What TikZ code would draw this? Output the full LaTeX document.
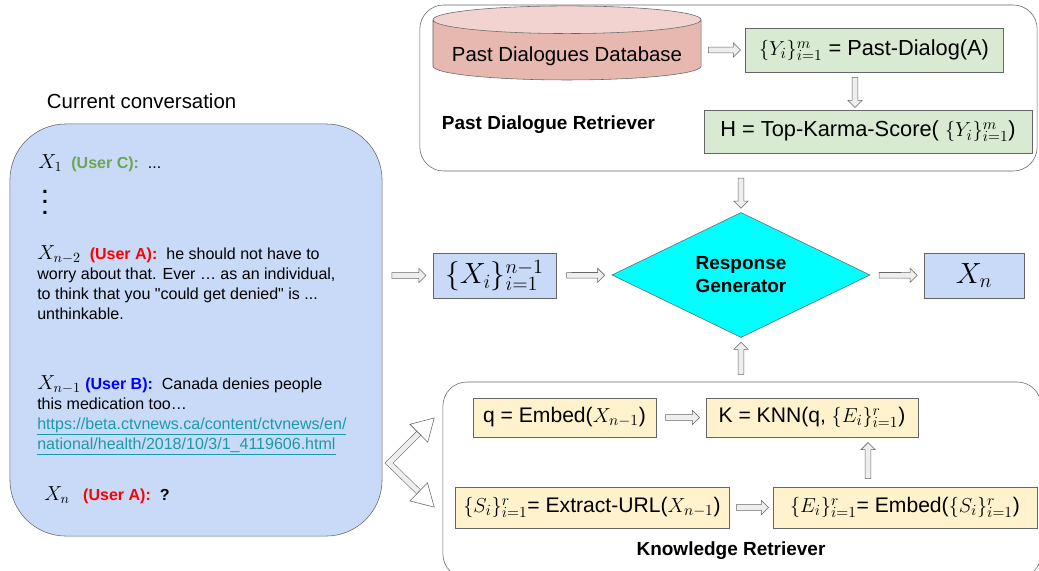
\documentclass[tikz,border=0pt]{standalone}
\usepackage[no-math]{fontspec}
\setmainfont[Ligatures=TeXOff]{Liberation Sans}
\usetikzlibrary{shapes.geometric,shapes.arrows,arrows.meta,calc}

\definecolor{convblue}{HTML}{C9DAF8}
\definecolor{dbbody}{HTML}{E6B8AF}
\definecolor{dbtop}{HTML}{F2D3CF}
\definecolor{pastgreen}{HTML}{D9EAD3}
\definecolor{knowyellow}{HTML}{FFF2CC}
\definecolor{gencyan}{HTML}{00FFFF}
\definecolor{usera}{HTML}{FF0000}
\definecolor{userb}{HTML}{0000FF}
\definecolor{userc}{HTML}{6AA84F}
\definecolor{urlteal}{HTML}{1A9AA8}
\definecolor{edgegray}{HTML}{666666}
\definecolor{arrowfill}{HTML}{EEEEEE}

\newcommand{\fs}[2]{\fontsize{#1}{#2}\selectfont}

\tikzset{
  convbox/.style={draw=edgegray, fill=convblue, rounded corners=1.4cm, inner sep=0pt},
  retrframe/.style={draw=edgegray, rounded corners=0.6cm, inner sep=0pt},
  pastbox/.style={draw=edgegray, fill=pastgreen, inner sep=0pt, font=\fs{15.5}{18}},
  knowbox/.style={draw=edgegray, fill=knowyellow, inner sep=0pt, font=\fs{15}{18}},
  seqbox/.style={draw=edgegray, fill=convblue, inner sep=0pt},
  harrow/.style={single arrow, draw=edgegray, fill=arrowfill, inner sep=1.8pt,
    single arrow head extend=3pt, minimum height=0.8cm, sloped},
  vline/.style={draw=edgegray, double=arrowfill, double distance=3.6pt, line join=miter,
    {Triangle[open]}-{Triangle[open]}},
  convtext/.style={anchor=north west, align=left, inner sep=0pt, font=\fs{11.4}{14.2}},
  retrlabel/.style={font=\fs{13.5}{16}\bfseries},
}

\begin{document}
\begin{tikzpicture}[x=0.025cm, y=-0.025cm]
  \useasboundingbox (0,0) rectangle (1039,571);

  % current conversation
  \node[anchor=west, font=\fs{14.5}{17}] (title) at (42,101) {Current conversation};
  \node[convbox, minimum width=9.3cm, minimum height=10.3cm] (conv) at (196,330) {};

  \node[convtext, anchor=west] (x1) at (38,163)
    {{\fs{14.5}{15}$X_1$}~~{\bfseries\color{userc}(User C):}~~...};
  \node[align=center, inner sep=0pt, font=\fs{15}{7.5}\bfseries] (dots) at (45,202)
    {.\\.\\.};
  \node[convtext] (xn2) at (37,245)
    {{\fs{14.5}{15}$X_{n-2}$}~~{\bfseries\color{usera}(User A):}~~he should not have to\\
     worry about that. Ever … as an individual,\\
     to think that you "could get denied" is ...\\
     unthinkable.};
  \node[convtext] (xn1) at (37,375)
    {{\fs{14.5}{15}$X_{n-1}$}~{\bfseries\color{userb}(User B):}~~Canada denies people\\
     this medication too…\\
     {\color{urlteal}\underline{https://beta.ctvnews.ca/content/ctvnews/en/}}\\
     {\color{urlteal}\underline{national/health/2018/10/3/1\_4119606.html}}};
  \node[convtext, anchor=west] (xn) at (44,495)
    {{\fs{14.5}{15}$X_n$}~~~{\bfseries\color{usera}(User A):}~~{\bfseries ?}};

  % past dialogue retriever
  \node[retrframe, minimum width=15.43cm, minimum height=4.15cm] (pdr) at (728.5,88) {};
  \node[cylinder, shape border rotate=90, aspect=0.12, draw=edgegray,
    cylinder uses custom fill, cylinder body fill=dbbody, cylinder end fill=dbtop,
    minimum width=6.7cm, minimum height=1.83cm, inner sep=0pt, text height=20pt,
    font=\fs{14.5}{17}] (db) at (567,50) {Past Dialogues Database};
  \node[pastbox, minimum width=6.45cm, minimum height=1.1cm] (past) at (874,50)
    {$\{Y_i\}_{i=1}^m$ = Past-Dialog(A)};
  \node[pastbox, minimum width=8.2cm, minimum height=1.075cm] (karma) at (868,131.5)
    {H = Top-Karma-Score( $\{Y_i\}_{i=1}^m$)};
  \node[retrlabel, anchor=west] (pdrlabel) at (437,125) {Past Dialogue Retriever};

  % generator
  \node[diamond, draw=edgegray, fill=gencyan, aspect=2.06, inner sep=0pt,
    minimum width=6.45cm, minimum height=3.125cm, align=center,
    font=\fs{13.5}{16.4}\bfseries] (gen) at (741,275) {Response\\Generator};
  \node[seqbox, minimum width=3.075cm, minimum height=1.125cm, font=\fs{20}{22}] (hist)
    at (494.5,275.5) {$\{X_i\}_{i=1}^{n-1}$};
  \node[seqbox, minimum width=2.5cm, minimum height=1.125cm, font=\fs{22.5}{24}] (out)
    at (974,275.5) {$X_n$};

  % knowledge retriever
  \node[retrframe, minimum width=14.95cm, minimum height=4.9cm] (kr) at (742,480) {};
  \node[knowbox, minimum width=4.575cm, minimum height=0.975cm] (kq) at (564.5,417.5)
    {q = Embed($X_{n-1}$)};
  \node[knowbox, minimum width=5.3cm, minimum height=0.975cm] (knn) at (812,417.5)
    {K = KNN(q, $\{E_i\}_{i=1}^r$)};
  \node[knowbox, minimum width=6.85cm, minimum height=1.025cm] (ext) at (592,507.5)
    {$\{S_i\}_{i=1}^r$= Extract-URL($X_{n-1}$)};
  \node[knowbox, minimum width=6.6cm, minimum height=1.025cm] (emb) at (905,507.5)
    {$\{E_i\}_{i=1}^r$= Embed($\{S_i\}_{i=1}^r$)};
  \node[retrlabel] (krlabel) at (731,551) {Knowledge Retriever};

  % hollow arrows
  \path (db) -- (past) node[harrow, midway] {};
  \path ([xshift=-0.475cm]past.south) -- ([xshift=-0.475cm]past.south |- karma.north)
    node[harrow, midway, minimum height=0.75cm] {};
  \path (pdr.south -| gen.north) -- (gen.north) node[harrow, midway, minimum height=0.75cm] {};
  \path (conv.east |- hist) -- (hist) node[harrow, midway, minimum height=0.85cm] {};
  \path (hist) -- (gen) node[harrow, midway, minimum height=0.95cm] {};
  \path (gen) -- (out) node[harrow, midway, minimum height=0.95cm] {};
  \path (kr.north -| gen.south) -- (gen.south) node[harrow, midway] {};
  \path (kq) -- (knn) node[harrow, midway, minimum height=0.85cm] {};
  \path (ext) -- (emb) node[harrow, midway] {};
  \path ([xshift=1.4cm]knn.south |- emb.north) -- ([xshift=1.4cm]knn.south)
    node[harrow, midway, minimum height=0.9cm] {};

  % split towards the knowledge retriever
  \coordinate (split) at (389,463);
  \coordinate (ktop) at ([xshift=-0.2cm]kr.west |- kq);
  \coordinate (kbot) at ([xshift=-0.2cm]kr.west |- ext);
  \draw[vline] (ktop) -- (split) -- (kbot);

\end{tikzpicture}
\end{document}
